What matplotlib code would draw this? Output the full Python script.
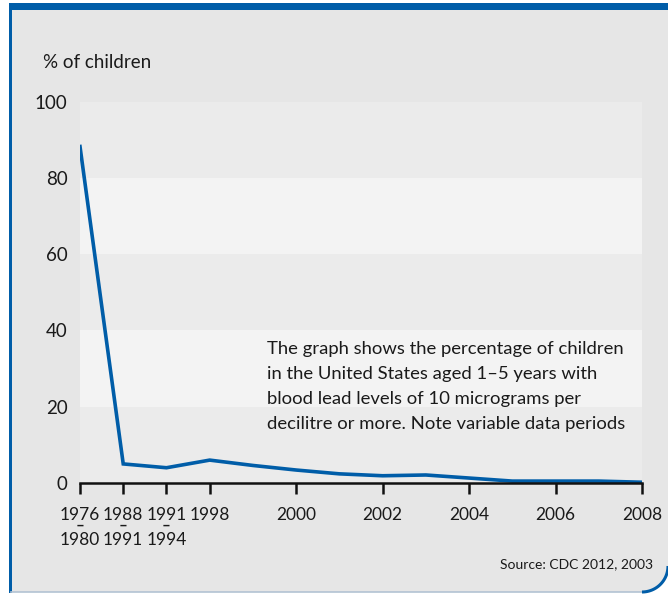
import numpy as np
import matplotlib
matplotlib.use("Agg")
import matplotlib.pyplot as plt
from matplotlib.patches import Polygon, Rectangle

plt.rcParams['font.family'] = ['Lato', 'DejaVu Sans']

# positions on the x axis: one slot per survey period / year
positions = [0, 1, 2, 3, 4, 5, 6, 7, 8, 9, 10, 11, 12, 13]
pct_children = [88.2, 5.0, 4.0, 6.0, 4.6, 3.4, 2.4, 1.9, 2.1, 1.3, 0.5, 0.5, 0.5, 0.2]

tick_pos = [0, 1, 2, 3, 5, 7, 9, 11, 13]
tick_labels = ['1976\n1980', '1988\n1991', '1991\n1994', '1998',
               '2000', '2002', '2004', '2006', '2008']
period_ticks = [0, 1, 2]  # ticks that stand for a range of years

note = ('The graph shows the percentage of children\n'
        'in the United States aged 1\u20135 years with\n'
        'blood lead levels of 10 micrograms per\n'
        'decilitre or more. Note variable data periods')

blue = '#005da8'
W, H = 668, 598

fig = plt.figure(figsize=(W / 100, H / 100), dpi=100)
fig.patch.set_facecolor('white')

# frame drawn in pixel coordinates
bg = fig.add_axes([0, 0, 1, 1])
bg.set_xlim(0, W)
bg.set_ylim(H, 0)
bg.axis('off')
r = 26
t = np.linspace(0, np.pi / 2, 30)
arc_x = (W - r) + r * np.cos(t)
arc_y = (592 - r) + r * np.sin(t)
panel = [(11, 9), (W, 9)] + list(zip(arc_x, arc_y)) + [(11, 592)]
bg.add_patch(Polygon(panel, closed=True, facecolor='#e6e6e6', edgecolor='none'))
bg.plot([11, W - r], [592, 592], color='#b3c3d3', lw=1.2)
bg.plot(arc_x, arc_y, color=blue, lw=2.2, solid_capstyle='butt')
bg.add_patch(Rectangle((9, 3), W - 9, 7, facecolor=blue, edgecolor='none'))
bg.add_patch(Rectangle((9, 3), 3, 590, facecolor=blue, edgecolor='none'))

# main chart
ax = fig.add_axes([80 / W, (H - 483) / H, (642 - 80) / W, (483 - 101.5) / H])
ax.set_facecolor('none')
band_cols = ['#ebebeb', '#f3f3f3', '#ebebeb', '#f3f3f3', '#ebebeb']
for i, c in enumerate(band_cols):
    ax.axhspan(i * 20, i * 20 + 20, color=c, zorder=0, lw=0)

ax.plot(positions, pct_children, color=blue, lw=2.6, zorder=3,
        solid_joinstyle='miter')

ax.set_xlim(0, 13)
ax.set_ylim(0, 100)
ax.set_xticks(tick_pos)
ax.set_xticklabels(tick_labels, fontsize=12.5, linespacing=1.7, color='#1a1a1a')
ax.set_yticks([0, 20, 40, 60, 80, 100])
ax.set_yticklabels(['0', '20', '40', '60', '80', '100'], fontsize=13.5, color='#1a1a1a')
ax.tick_params(axis='x', length=8, width=1.8, direction='out', pad=9, color='#111111')
ax.tick_params(axis='y', length=0, pad=9)
for s in ['top', 'right', 'left']:
    ax.spines[s].set_visible(False)
ax.spines['bottom'].set_linewidth(1.8)
ax.spines['bottom'].set_color('#111111')
ax.spines['bottom'].set_zorder(4)

# small dash marking a year range
for p in period_ticks:
    ax.annotate('\u2013', xy=(p, 0), xycoords=('data', 'axes fraction'),
                xytext=(0, -31), textcoords='offset points',
                ha='center', va='center', fontsize=11, fontweight='bold',
                color='#1a1a1a')

ax.text(267 / W, (H - 341) / H, note, transform=fig.transFigure,
        fontsize=13.3, linespacing=1.68, va='top', ha='left', color='#1a1a1a')

fig.text(43 / W, (H - 63) / H, '% of children', fontsize=13.5,
         va='center', ha='left', color='#1a1a1a')
fig.text(653 / W, (H - 564) / H, 'Source: CDC 2012, 2003', fontsize=10,
         va='center', ha='right', color='#1a1a1a')

fig.savefig('out.png', dpi=100)
